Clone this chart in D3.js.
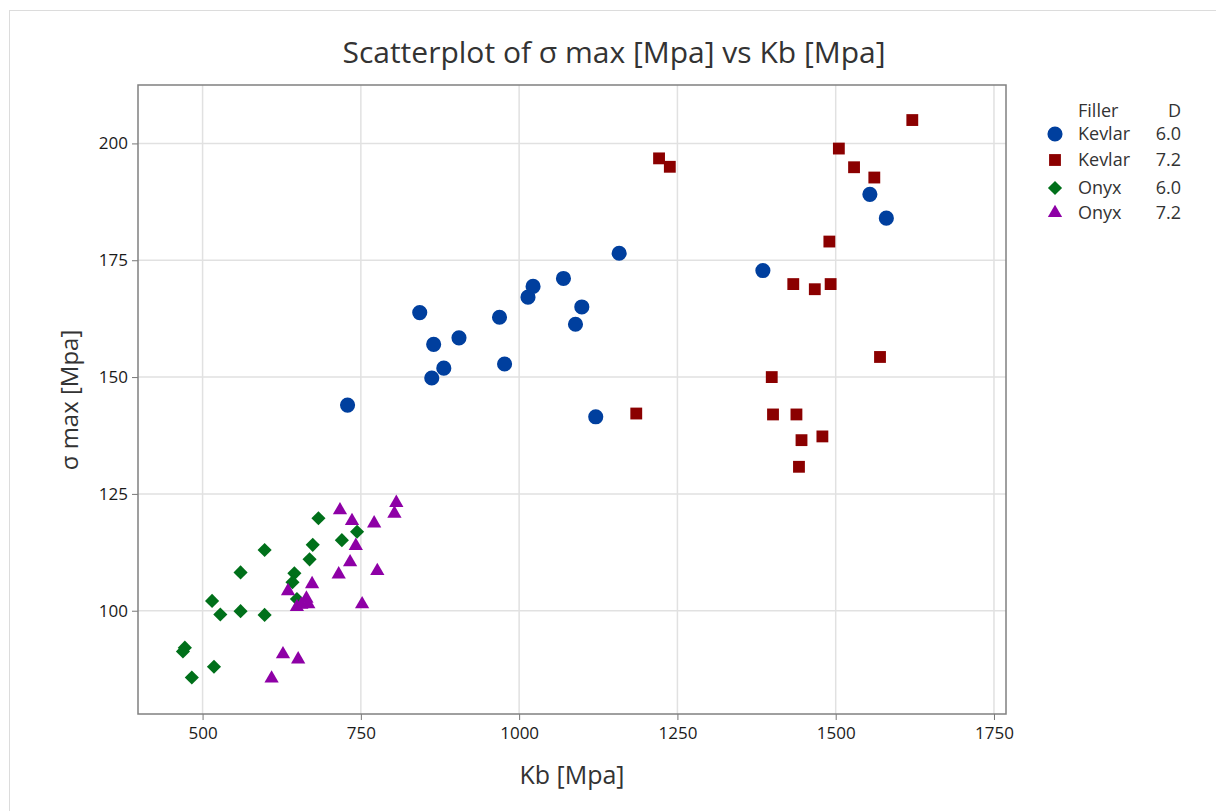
<!DOCTYPE html>
<html>
<head>
<meta charset="utf-8">
<script src="https://cdn.jsdelivr.net/npm/d3@7"></script>
<style>
    body { margin: 0; background: #fff; }
    text { font-family: "Open Sans", "Noto Sans", sans-serif; }
</style>
</head>
<body>
<script>
// Kb [Mpa] and sigma max [Mpa] for each Filler / D group
const kevlar60Kb = [729, 843, 865, 905, 881, 862, 969, 977, 1014, 1022, 1070, 1099, 1089, 1158, 1121, 1554, 1580, 1385]
const kevlar60Sigma = [144.0, 163.8, 157.0, 158.4, 151.9, 149.8, 162.8, 152.8, 167.1, 169.4, 171.1, 165.0, 161.3, 176.5, 141.5, 189.1, 184.0, 172.8]

const kevlar72Kb = [1185, 1221, 1238, 1621, 1505, 1529, 1561, 1490, 1433, 1467, 1492, 1570, 1399, 1401, 1438, 1446, 1479, 1442]
const kevlar72Sigma = [142.2, 196.8, 195.0, 205.0, 198.9, 194.9, 192.7, 179.0, 169.9, 168.8, 169.9, 154.3, 150.0, 142.0, 142.0, 136.5, 137.3, 130.8]

const onyx60Kb = [683, 598, 560, 674, 669, 720, 744, 645, 642, 649, 515, 528, 560, 598, 472, 469, 518, 483]
const onyx60Sigma = [119.8, 113.0, 108.2, 114.1, 111.0, 115.1, 116.9, 108.0, 106.1, 102.5, 102.1, 99.2, 99.9, 99.1, 92.1, 91.3, 88.0, 85.7]

const onyx72Kb = [717, 806, 803, 736, 771, 742, 733, 715, 776, 673, 635, 649, 656, 664, 667, 752, 627, 651, 609]
const onyx72Sigma = [121.5, 123.1, 120.8, 119.2, 118.7, 113.9, 110.4, 107.8, 108.5, 105.7, 104.2, 100.8, 101.3, 102.6, 101.4, 101.4, 90.7, 89.6, 85.5]

const fillers = ['Kevlar', 'Kevlar', 'Onyx', 'Onyx']
const dValues = ['6.0', '7.2', '6.0', '7.2']
const colors = ['#003f9e', '#8b0000', '#00701a', '#8e00a6']
const symbols = [d3.symbolCircle, d3.symbolSquare, d3.symbolSquare, d3.symbolTriangle]
const symbolSizes = [180, 140, 100, 88]
const symbolRotate = [0, 0, 45, 0]

const xTicks = [500, 750, 1000, 1250, 1500, 1750]
const yTicks = [100, 125, 150, 175, 200]

const groups = [
    { kb: kevlar60Kb, sigma: kevlar60Sigma },
    { kb: kevlar72Kb, sigma: kevlar72Sigma },
    { kb: onyx60Kb, sigma: onyx60Sigma },
    { kb: onyx72Kb, sigma: onyx72Sigma }
]

const W = 1216, H = 811
const plot = { left: 138, right: 1006, top: 85, bottom: 714 }

const svg = d3.select('body').append('svg')
    .attr('width', W)
    .attr('height', H)

// outer frame
svg.append('rect')
    .attr('x', 9.5).attr('y', 10.5)
    .attr('width', W).attr('height', H)
    .attr('fill', 'none')
    .attr('stroke', '#dcdcdc')

const x = d3.scaleLinear().domain([398, 1769]).range([plot.left, plot.right])
const y = d3.scaleLinear().domain([77.9, 212.5]).range([plot.bottom, plot.top])

// gridlines
svg.append('g').selectAll('line').data(xTicks).join('line')
    .attr('x1', d => x(d)).attr('x2', d => x(d))
    .attr('y1', plot.top).attr('y2', plot.bottom)
    .attr('stroke', '#e1e1e1').attr('stroke-width', 1.5)

svg.append('g').selectAll('line').data(yTicks).join('line')
    .attr('x1', plot.left).attr('x2', plot.right)
    .attr('y1', d => y(d)).attr('y2', d => y(d))
    .attr('stroke', '#e1e1e1').attr('stroke-width', 1.5)

// axes
const xAxis = svg.append('g')
    .attr('transform', `translate(0,${plot.bottom})`)
    .call(d3.axisBottom(x).tickValues(xTicks).tickFormat(d3.format('d'))
        .tickSize(6).tickSizeOuter(0).tickPadding(7))
const yAxis = svg.append('g')
    .attr('transform', `translate(${plot.left},0)`)
    .call(d3.axisLeft(y).tickValues(yTicks).tickFormat(d3.format('d'))
        .tickSize(6).tickSizeOuter(0).tickPadding(4))

for (let ax of [xAxis, yAxis]) {
    ax.select('.domain').remove()
    ax.selectAll('.tick line').attr('stroke', '#777')
    ax.selectAll('.tick text')
        .attr('fill', '#1a1a1a')
        .style('font-size', '17px')
        .style('font-family', '"Open Sans", sans-serif')
}

// plot frame
svg.append('rect')
    .attr('x', plot.left).attr('y', plot.top)
    .attr('width', plot.right - plot.left).attr('height', plot.bottom - plot.top)
    .attr('fill', 'none')
    .attr('stroke', '#808080')
    .attr('stroke-width', 1.5)

// points
groups.forEach(function (g, i) {
    svg.append('g').selectAll('path').data(g.kb).join('path')
        .attr('transform', (d, j) => `translate(${x(d)},${y(g.sigma[j])}) rotate(${symbolRotate[i]})`)
        .attr('d', d3.symbol().type(symbols[i]).size(symbolSizes[i]))
        .attr('fill', colors[i])
})

// title and axis labels
svg.append('text')
    .attr('x', 614).attr('y', 63)
    .attr('text-anchor', 'middle')
    .attr('fill', '#333')
    .style('font-size', '30px')
    .text('Scatterplot of σ max [Mpa] vs Kb [Mpa]')

svg.append('text')
    .attr('x', 572).attr('y', 784)
    .attr('text-anchor', 'middle')
    .attr('fill', '#333')
    .style('font-size', '25px')
    .text('Kb [Mpa]')

svg.append('text')
    .attr('transform', 'translate(78,400) rotate(-90)')
    .attr('text-anchor', 'middle')
    .attr('fill', '#333')
    .style('font-size', '24px')
    .text('σ max [Mpa]')

// legend
const legend = svg.append('g').style('font-size', '18px')
const legendY = [134, 160, 188, 213]

legend.append('text').attr('x', 1078).attr('y', 117).attr('fill', '#333').text('Filler')
legend.append('text').attr('x', 1181).attr('y', 117).attr('fill', '#333')
    .attr('text-anchor', 'end').text('D')

fillers.forEach(function (f, i) {
    legend.append('path')
        .attr('transform', `translate(1055,${legendY[i]}) rotate(${symbolRotate[i]})`)
        .attr('d', d3.symbol().type(symbols[i]).size(symbolSizes[i]))
        .attr('fill', colors[i])
    legend.append('text').attr('x', 1078).attr('y', legendY[i] + 6)
        .attr('fill', '#333').text(f)
    legend.append('text').attr('x', 1181).attr('y', legendY[i] + 6)
        .attr('fill', '#333').attr('text-anchor', 'end').text(dValues[i])
})
</script>
</body>
</html>
